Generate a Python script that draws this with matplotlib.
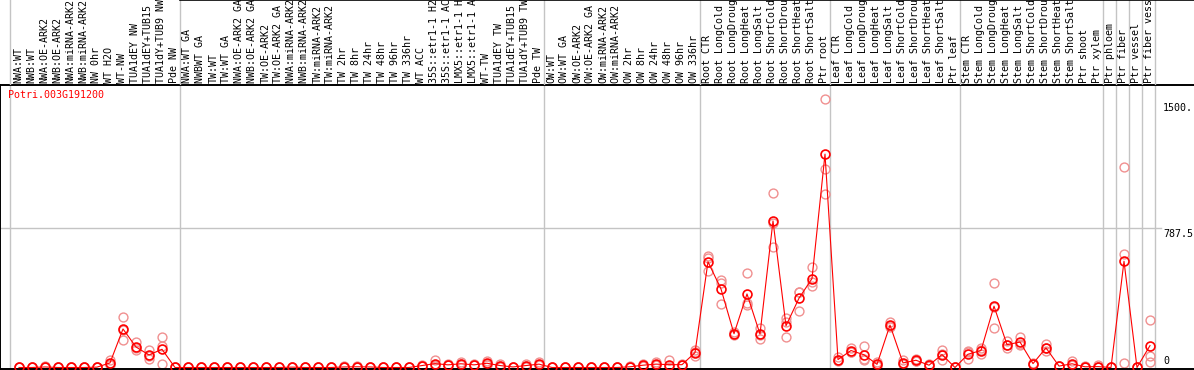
import numpy as np
import matplotlib
matplotlib.use('Agg')
import matplotlib.pyplot as plt

# sample labels, one list per group (grey separators between groups)
grp_nw = ['NWA:WT', 'NWB:WT', 'NWA:OE-ARK2', 'NWB:OE-ARK2', 'NWA:miRNA-ARK2',
          'NWB:miRNA-ARK2', 'NW 0hr', 'WT H2O', 'WT-NW', 'TUA1dEY NW',
          'TUA1dEY+TUB15 NW', 'TUA1dY+TUB9 NW', 'Pde NW']
grp_tw = ['NWA:WT GA', 'NWBWT GA', 'TW:WT', 'TW:WT GA', 'NWA:OE-ARK2 GA',
          'NWB:OE-ARK2 GA', 'TW:OE-ARK2', 'TW:OE-ARK2 GA', 'NWA:miRNA-ARK2 GA',
          'NWB:miRNA-ARK2 GA', 'TW:miRNA-ARK2', 'TW:miRNA-ARK2 GA', 'TW 2hr',
          'TW 8hr', 'TW 24hr', 'TW 48hr', 'TW 96hr', 'TW 336hr', 'WT ACC',
          '35S::etr1-1 H2O', '35S::etr1-1 ACC', 'LMX5::etr1-1 H2O',
          'LMX5::etr1-1 ACC', 'WT-TW', 'TUA1dEY TW', 'TUA1dEY+TUB15 TW',
          'TUA1dY+TUB9 TW', 'Pde TW']
grp_ow = ['OW:WT', 'OW:WT GA', 'OW:OE-ARK2', 'OW:OE-ARK2 GA', 'OW:miRNA-ARK2',
          'OW:miRNA-ARK2 GA', 'OW 2hr', 'OW 8hr', 'OW 24hr', 'OW 48hr',
          'OW 96hr', 'OW 336hr']
grp_root = ['Root CTR', 'Root LongCold', 'Root LongDrought', 'Root LongHeat',
            'Root LongSalt', 'Root ShortCold', 'Root ShortDrought',
            'Root ShortHeat', 'Root ShortSalt', 'Ptr root']
grp_leaf = ['Leaf CTR', 'Leaf LongCold', 'Leaf LongDrought', 'Leaf LongHeat',
            'Leaf LongSalt', 'Leaf ShortCold', 'Leaf ShortDrought',
            'Leaf ShortHeat', 'Leaf ShortSalt', 'Ptr leaf']
grp_stem = ['Stem CTR', 'Stem LongCold', 'Stem LongDrought', 'Stem LongHeat',
            'Stem LongSalt', 'Stem ShortCold', 'Stem ShortDrought',
            'Stem ShortHeat', 'Stem ShortSalt', 'Ptr shoot', 'Ptr xylem']
grp_phloem = ['Ptr phloem']
grp_fiber = ['Ptr fiber']
grp_vessel = ['Ptr vessel']
grp_fv = ['Ptr fiber vessel']
groups = [grp_nw, grp_tw, grp_ow, grp_root, grp_leaf, grp_stem,
          grp_phloem, grp_fiber, grp_vessel, grp_fv]

gene = 'Potri.003G191200'

# mean expression
means = [0, 0, 3, 0, 0, 0, 2, 26, 218, 116, 71, 103, 0,
         0, 0, 0, 0, 0, 0, 0, 0, 2, 0, 0, 0, 3, 4, 3, 0, 0, 0, 11, 22, 15, 21, 15, 24, 11, 3, 11, 19,
         0, 0, 0, 0, 0, 0, 4, 13, 19, 16, 16, 84,
         598, 444, 191, 416, 189, 829, 236, 392, 503, 1207,
         45, 96, 72, 18, 240, 26, 41, 13, 73, 0,
         75, 96, 347, 129, 144, 22, 111, 8, 21, 4, 5,
         0, 601, 0, 124]
# replicates
rep_a = [0, 0, 7, 0, 0, 0, 3, 45, 285, 142, 97, 172, 0,
         0, 0, 0, 0, 0, 0, 0, 0, 3, 0, 0, 0, 11, 8, 4, 0, 0, 0, 13, 41, 17, 30, 17, 39, 22, 4, 22, 30,
         0, 0, 0, 0, 0, 0, 6, 21, 30, 41, 20, 97,
         632, 495, 198, 532, 223, 988, 279, 426, 566, 1517,
         58, 111, 124, 30, 255, 41, 50, 20, 101, 0,
         85, 111, 476, 148, 171, 25, 133, 10, 39, 6, 13,
         0, 1136, 0, 270]
rep_b = [0, 0, 2, 0, 0, 0, 2, 20, 157, 97, 67, 120, 0,
         0, 0, 0, 0, 0, 0, 0, 0, 2, 0, 0, 0, 0, 3, 3, 0, 0, 0, 11, 15, 15, 18, 15, 20, 7, 3, 7, 15,
         0, 0, 0, 0, 0, 0, 4, 10, 15, 4, 15, 67,
         617, 476, 190, 351, 161, 682, 172, 322, 461, 1123,
         40, 90, 45, 14, 235, 20, 38, 10, 41, 0,
         49, 79, 223, 111, 130, 21, 92, 8, 12, 4, 1,
         0, 641, 0, 67]
rep_c = [0, 0, 0, 0, 0, 0, 1, 13, 212, 109, 49, 22, 0,
         0, 0, 0, 0, 0, 0, 0, 0, 1, 0, 0, 0, 0, 1, 2, 0, 0, 0, 9, 10, 13, 15, 13, 13, 4, 2, 4, 12,
         0, 0, 0, 0, 0, 0, 2, 8, 12, 3, 13, 88,
         545, 360, 185, 365, 183, 817, 257, 428, 482, 983,
         37, 87, 47, 10, 230, 17, 35, 9, 77, 0,
         91, 98, 342, 128, 131, 20, 108, 6, 12, 2, 1,
         0, 26, 0, 32]

yticks = [0, 787.5, 1500]
ytick_labels = ['0', '787.5', '1500.']

labels = [s for g in groups for s in g]
x = np.arange(len(labels))

W, H = 1194, 370
fig = plt.figure(figsize=(W / 100, H / 100), dpi=100)
mono = 'DejaVu Sans Mono'
fs = 7.2
grey = '#c4c4c4'

xl = (-19 / 13, (W - 19) / 13)
ax = fig.add_axes([0, 1 / H, 1, 284 / H])
lab = fig.add_axes([0, 285 / H, 1, 85 / H])
ax.set_xlim(*xl)
ax.set_ylim(-8.5, 1598)
lab.set_xlim(*xl)
lab.set_ylim(0, 1)
lab.axis('off')
ax.spines['right'].set_visible(False)
for s in ['left', 'top', 'bottom']:
    ax.spines[s].set_color('black')
    ax.spines[s].set_linewidth(1.4)
ax.set_xticks([])
ax.set_yticks([])

# group separators
bounds = [-0.7] + list(np.cumsum([len(g) for g in groups]) - 0.6)
for b in bounds:
    ax.axvline(b, color=grey, lw=1.0, zorder=1)
    lab.axvline(b, color=grey, lw=1.0, zorder=1)
lab.plot([12.4, xl[1]], [0.995, 0.995], color='black', lw=1.2, clip_on=False)

# horizontal grid line
ax.plot([xl[0], (1161 - 19) / 13], [787.5, 787.5], color=grey, lw=1.0, zorder=1)

# sample labels (long ones are clipped at the top, as in the original)
for xi, s in zip(x, labels):
    lab.text(xi - 0.05, 2 / 85, s, rotation=90, ha='center', va='bottom',
             family=mono, fontsize=fs, color='black', clip_on=True)

for r in [rep_a, rep_b, rep_c]:
    ax.plot(x, r, ls='none', marker='o', ms=6.4, mfc='none', mec='#f09090',
            mew=1.0, zorder=2, clip_on=False)
ax.plot(x, means, color='#ff0000', lw=0.8, marker='o', ms=6.4, mfc='none',
        mec='#ff0000', mew=1.2, zorder=3, clip_on=False)

# y labels on right side
tx = (1163 - 19) / 13
for v, t in zip(yticks, ytick_labels):
    if v == 0:
        ax.text(tx, v + 6, t, ha='left', va='bottom', family=mono, fontsize=fs)
    else:
        ax.text(tx, v - 4, t, ha='left', va='top', family=mono, fontsize=fs)

ax.text(xl[0] + 8 / 13, 1540, gene, color='#ff0000', family=mono, fontsize=fs,
        ha='left', va='center')

fig.savefig('out.png', dpi=100)
